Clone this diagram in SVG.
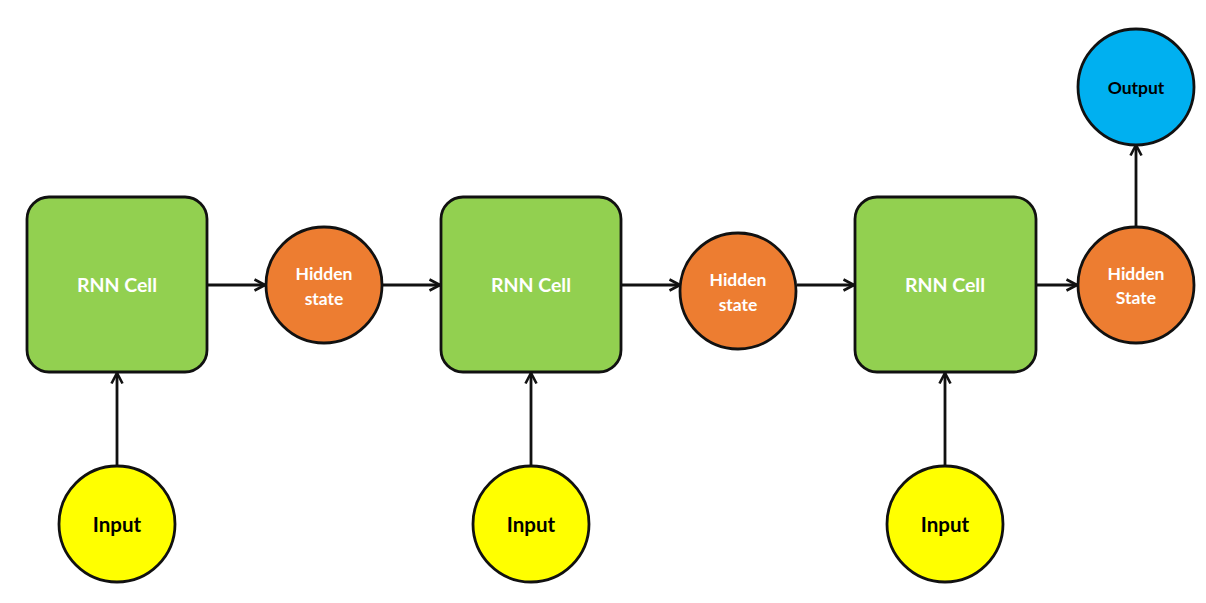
<svg xmlns="http://www.w3.org/2000/svg" width="1206" height="603" viewBox="0 0 1206 603">
<defs>
<style>
.cell{fill:#92D050;stroke:#111;stroke-width:2.8}
.hid{fill:#ED7D31;stroke:#111;stroke-width:2.8}
.inp{fill:#FFFF00;stroke:#111;stroke-width:2.8}
.out{fill:#00B0F0;stroke:#111;stroke-width:2.8}
.lbl{font-family:Lato,"Open Sans","Liberation Sans",sans-serif;font-weight:bold;text-anchor:middle;dominant-baseline:central}
.w{fill:#fff}
.k{fill:#000}
.conn{stroke:#111;stroke-width:2.8;fill:none;marker-end:url(#arr)}
</style>
<marker id="arr" viewBox="0 0 14 14" refX="12.5" refY="7" markerWidth="14" markerHeight="14" markerUnits="userSpaceOnUse" orient="auto">
<path d="M2,1.5 L12.5,7 L2,12.5" fill="none" stroke="#111" stroke-width="2.6"/>
</marker>
</defs>
<rect width="1206" height="603" fill="#fff"/>
<g id="connectors">
<line class="conn" x1="207" y1="285" x2="265" y2="285"/>
<line class="conn" x1="382" y1="285" x2="440" y2="285"/>
<line class="conn" x1="621" y1="285" x2="680" y2="285"/>
<line class="conn" x1="797" y1="285" x2="854" y2="285"/>
<line class="conn" x1="1036" y1="285" x2="1077" y2="285"/>
<line class="conn" x1="1136" y1="227" x2="1136" y2="145"/>
<line class="conn" x1="117" y1="466" x2="117" y2="373"/>
<line class="conn" x1="531" y1="466" x2="531" y2="373"/>
<line class="conn" x1="945" y1="466" x2="945" y2="373"/>
</g>
<g id="cell1"><rect class="cell" x="27" y="197" width="180" height="175" rx="22"/><text class="lbl w" x="117" y="284" font-size="19.5">RNN Cell</text></g>
<g id="cell2"><rect class="cell" x="441" y="197" width="180" height="175" rx="22"/><text class="lbl w" x="531" y="284" font-size="19.5">RNN Cell</text></g>
<g id="cell3"><rect class="cell" x="855" y="197" width="181" height="175" rx="22"/><text class="lbl w" x="945" y="284" font-size="19.5">RNN Cell</text></g>
<g id="hidden1"><circle class="hid" cx="324" cy="285" r="58"/><text class="lbl w" x="324" y="273" font-size="17.5">Hidden</text><text class="lbl w" x="324" y="298" font-size="17.5">state</text></g>
<g id="hidden2"><circle class="hid" cx="738" cy="291" r="58"/><text class="lbl w" x="738" y="279" font-size="17.5">Hidden</text><text class="lbl w" x="738" y="304" font-size="17.5">state</text></g>
<g id="hidden3"><circle class="hid" cx="1136" cy="285" r="58"/><text class="lbl w" x="1136" y="273" font-size="17.5">Hidden</text><text class="lbl w" x="1136" y="297" font-size="17.5">State</text></g>
<g id="output"><circle class="out" cx="1136" cy="87" r="58"/><text class="lbl k" x="1136" y="87" font-size="17.5">Output</text></g>
<g id="input1"><circle class="inp" cx="117" cy="524" r="58"/><text class="lbl k" x="117" y="524" font-size="20.5">Input</text></g>
<g id="input2"><circle class="inp" cx="531" cy="524" r="58"/><text class="lbl k" x="531" y="524" font-size="20.5">Input</text></g>
<g id="input3"><circle class="inp" cx="945" cy="524" r="58"/><text class="lbl k" x="945" y="524" font-size="20.5">Input</text></g>
</svg>
